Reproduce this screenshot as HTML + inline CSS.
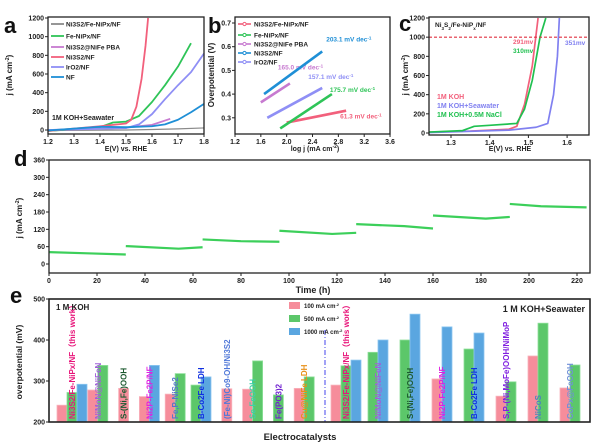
<!DOCTYPE html>
<html><head><meta charset="utf-8">
<style>
html,body{margin:0;padding:0;background:#fff;}
svg{display:block;font-family:"Liberation Sans",Arial,sans-serif;font-weight:bold;}
</style></head>
<body>
<svg id="fig" width="600" height="447" viewBox="0 0 600 447" xmlns="http://www.w3.org/2000/svg">
<g id="root"></g>
</svg>
<script>
// ---------- Panel a data ----------
const aNames = ["Ni3S2/Fe-NiPx/NF","Fe-NiPx/NF","Ni3S2@NiFe PBA","Ni3S2/NF","IrO2/NF","NF"];
const aColors = ["#8a8a8a","#2fc458","#c77ad0","#f2607c","#8f8ff5","#1f8fd6"];
const aX0 = [1.2,1.4,1.5,1.6,1.7,1.8];
const aY0 = [-5,-2,0,5,12,22];
const aX1 = [1.2,1.3,1.4,1.45,1.5,1.55,1.6,1.65,1.7,1.75];
const aY1 = [-10,10,30,80,90,150,300,480,680,930];
const aX2 = [1.2,1.4,1.5,1.6,1.67];
const aY2 = [0,15,25,55,120];
const aX3 = [1.2,1.4,1.5,1.52,1.54,1.56,1.575,1.585];
const aY3 = [-10,40,70,110,250,550,900,1200];
const aX4 = [1.2,1.5,1.55,1.6,1.65,1.7,1.75,1.8];
const aY4 = [0,20,60,170,330,480,620,820];
const aX5 = [1.2,1.4,1.5,1.6,1.65,1.7,1.75,1.8];
const aY5 = [-5,35,30,40,60,110,190,280];
const aXTicks = [1.2,1.3,1.4,1.5,1.6,1.7,1.8];
const aYTicks = [0,200,400,600,800,1000,1200];
// ---------- Panel b data ----------
const bNames = ["Ni3S2/Fe-NiPx/NF","Fe-NiPx/NF","Ni3S2@NiFe PBA","Ni3S2/NF","IrO2/NF"];
const bColors = ["#f2607c","#2fc458","#c77ad0","#1f8fd6","#8f8ff5"];
const bStartX = [2.0,1.9,1.6,1.65,1.7];
const bStartY = [0.28,0.255,0.365,0.40,0.30];
const bEndX = [2.92,2.70,2.05,2.55,2.55];
const bEndY = [0.33,0.40,0.445,0.58,0.426];
const bSlopes = ["61.3 mV dec","175.7 mV dec","165.0 mV dec","203.1 mV dec","157.1 mV dec"];
const bXTicks = [1.2,1.6,2.0,2.4,2.8,3.2,3.6];
const bYTicks = [0.3,0.4,0.5,0.6,0.7];
// ---------- Panel c data ----------
const cNames = ["1M KOH","1M KOH+Seawater","1M KOH+0.5M NaCl"];
const cColors = ["#f2607c","#8080f0","#20c050"];
const cX0 = [1.243,1.35,1.45,1.47,1.49,1.51,1.525];
const cY0 = [10,20,40,70,300,700,1200];
const cX1 = [1.243,1.45,1.52,1.55,1.565,1.575,1.58];
const cY1 = [5,30,60,100,400,800,1200];
const cX2 = [1.243,1.33,1.36,1.4,1.47,1.49,1.51,1.53,1.545];
const cY2 = [10,25,70,80,100,250,550,1000,1200];
const cXTicks = [1.3,1.4,1.5,1.6];
const cYTicks = [0,200,400,600,800,1000,1200];
// ---------- Panel d data ----------
const dSegT = [[0,16,32],[32,54,64],[64,80,96],[96,118,128],[128,148,160],[160,182,192],[192,205,224]];
const dSegJ = [[41,37,33],[62,53,58],[85,79,77],[115,104,108],[138,131,123],[168,157,163],[208,200,196]];
const dXTicks = [0,20,40,60,80,100,120,140,160,180,200,220];
const dYTicks = [0,60,120,180,240,300,360];
// ---------- Panel e data ----------
const eLabels = ["Ni3S2/Fe-NiPx/NF（this work）","NiMoN@NiFeN","S-(Ni,Fe)OOH","Ni2P-Fe2P/NF","Fe,P-NiSe2","B-Co2Fe LDH","(Fe-Ni)Co9-OH/Ni3S2","Se-FeOOH","Fe(PO3)2","Cu@NiFe LDH",
 "Ni3S2/Fe-NiPx/NF（this work）","NiMoN@NiFeN","S-(Ni,Fe)OOH","Ni2P-Fe2P/NF","B-Co2Fe LDH","S,P-(Ni,MoFe)OOH/NiMoP","NiCoS","CoPx@FeOOH"];
const eLabelColors = ["#e8157a","#a060d8","#1d5a30","#e020e0","#5577c8","#1030e0","#5078d8","#40d0a8","#7020d0","#e89018",
 "#e8157a","#a060d8","#1d5a30","#e020e0","#1030e0","#8020e0","#4a86b8","#7090d8"];
const e100 = [241,278,282,262,268,null,281,280,null,282, 290,null,null,305,null,263,361,283];
const e500 = [272,338,null,null,318,290,null,349,266,310, 337,370,400,null,378,298,441,339];
const e1000 = [292,null,null,338,null,310,null,null,null,null, 351,400,463,432,417,null,null,null];
const eYTicks = [200,300,400,500];
const eSeriesNames = ["100 mA cm","500 mA cm","1000 mA cm"];
const eColors = ["#f68d9b","#5cc76a","#5aa6e0"];
const eStroke = ["#f8b3bc","#8ee09a","#8cc6f0"];

const NS="http://www.w3.org/2000/svg";
const root=document.getElementById('root');
function mk(tag,attrs,parent){const e=document.createElementNS(NS,tag);for(const k in attrs)e.setAttribute(k,attrs[k]);(parent||root).appendChild(e);return e;}
function txt(s,x,y,size,color,anchor,parent){const t=mk('text',{x:x,y:y,'font-size':size,fill:color||'#222','text-anchor':anchor||'start'},parent);t.textContent=s;return t;}

const xA=v=>48+(v-1.2)/0.6*156, yA=v=>130-v/1200*112;
const xB=v=>235+(v-1.2)*64.6, yB=v=>23+(0.7-v)*237;
const xC=v=>451+(v-1.3)*387, yC=v=>133-v/1200*115;
const xD=v=>49+v*2.4, yD=v=>264-v*104/360;
const yE=v=>422-(v-200)*123/300;

function frame(x0,y0,x1,y1,name,sw){const r=mk('rect',{x:x0,y:y0,width:x1-x0,height:y1-y0,fill:'none',stroke:'#222','stroke-width':sw||1.3});

return r;}
function xticks(vals,fx,ybot,fmt,name){const g=mk('g',{});


vals.forEach(v=>{mk('line',{x1:fx(v),x2:fx(v),y1:ybot,y2:ybot+3,stroke:'#222','stroke-width':1},g);txt(fmt(v),fx(v),ybot+10,7,'#222','middle',g);});}
function yticks(vals,fy,xl,fmt,name){const g=mk('g',{});


vals.forEach(v=>{mk('line',{x1:xl-3,x2:xl,y1:fy(v),y2:fy(v),stroke:'#222','stroke-width':1},g);txt(fmt(v),xl-4,fy(v)+2.5,7,'#222','end',g);});}
function poly(xs,ys,fx,fy,color,w,name){const p=mk('polyline',{points:xs.map((x,i)=>fx(x)+','+fy(ys[i])).join(' '),fill:'none',stroke:color,'stroke-width':w||1.6,'stroke-linejoin':'round'});

return p;}
function panelLetter(s,x,y){const t=txt(s,x,y,22,'#111');

}
function ylabel(s,x,y,size){const t=mk('text',{x:0,y:0,'font-size':size||8,fill:'#222','text-anchor':'middle',transform:`translate(${x},${y}) rotate(-90)`});t.innerHTML=s;

return t;}
function xlabel(s,x,y,size){const t=mk('text',{x:x,y:y,'font-size':size||7,fill:'#222','text-anchor':'middle'});t.innerHTML=s;

return t;}
const fmt1=v=>v.toFixed(1), fmt0=v=>String(v);

// ---------- Panel a ----------
panelLetter('a',4,33);
const aXs=[aX0,aX1,aX2,aX3,aX4,aX5], aYs=[aY0,aY1,aY2,aY3,aY4,aY5];
aXs.forEach((xs,i)=>poly(xs,aYs[i],xA,yA,aColors[i],i==0?1.2:1.8,'a-curve-'+i));
frame(48,17,204,134,'panel-a-plot-frame');
xticks(aXTicks,xA,134,fmt1,'a-x-ticks'); yticks(aYTicks,yA,48,fmt0,'a-y-ticks');
xlabel('E(V) vs. RHE',126,151);
ylabel('j (mA cm<tspan baseline-shift="super" font-size="5">-2</tspan>)',12,75);
const aLegY=[24,36,47,57,67,77];
aNames.forEach((n,i)=>{const g=mk('g',{});


mk('line',{x1:51,x2:64,y1:aLegY[i],y2:aLegY[i],stroke:aColors[i],'stroke-width':1.8},g);txt(n,66,aLegY[i]+2.5,6.5,'#222','start',g);});
const aNote=txt('1M KOH+Seawater',52,120,7,'#222');



// ---------- Panel b ----------
panelLetter('b',208,33);
const bLabelOff=[[-6,8],[-2,-2],[-12,-14],[4,-10],[-14,-9]];
bNames.forEach((n,i)=>{poly([bStartX[i],bEndX[i]],[bStartY[i],bEndY[i]],xB,yB,bColors[i],2.6,'b-tafel-line-'+i);
const s=txt(bSlopes[i],xB(bEndX[i])+bLabelOff[i][0],yB(bEndY[i])+bLabelOff[i][1],6.5,bColors[i]);


mk('tspan',{'baseline-shift':'super','font-size':4.5},s).textContent='-1';});
frame(235,17,390,134,'panel-b-plot-frame');
xticks(bXTicks,xB,134,fmt1,'b-x-ticks'); yticks(bYTicks,yB,235,fmt1,'b-y-ticks');
xlabel('log j (mA cm<tspan baseline-shift="super" font-size="5">-2</tspan>)',315,151);
ylabel('Overpotential (V)',214,75);
const bLegY=[24,35,44,53,62];
bNames.forEach((n,i)=>{const g=mk('g',{});


mk('line',{x1:238,x2:251,y1:bLegY[i],y2:bLegY[i],stroke:bColors[i],'stroke-width':1.6},g);mk('circle',{cx:244.5,cy:bLegY[i],r:1.6,fill:'#fff',stroke:bColors[i]},g);txt(n,254,bLegY[i]+2.5,6.5,'#222','start',g);});

// ---------- Panel c ----------
panelLetter('c',399,31);
const cXs=[cX0,cX1,cX2], cYs=[cY0,cY1,cY2];
cXs.forEach((xs,i)=>poly(xs,cYs[i],xC,yC,cColors[i],1.7,'c-curve-'+i));
const dl=mk('line',{x1:429,x2:589,y1:yC(1000),y2:yC(1000),stroke:'#e03040','stroke-width':1.2,'stroke-dasharray':'3,2'});


frame(429,17,589,135,'panel-c-plot-frame');
xticks(cXTicks,xC,135,fmt1,'c-x-ticks'); yticks(cYTicks,yC,429,fmt0,'c-y-ticks');
xlabel('E(V) vs. RHE',510,151);
ylabel('j (mA cm<tspan baseline-shift="super" font-size="5">-2</tspan>)',408,75);
const cTitle=txt('',435,27,6.5,'#222');cTitle.innerHTML='Ni<tspan baseline-shift="sub" font-size="4.5">3</tspan>S<tspan baseline-shift="sub" font-size="4.5">2</tspan>/Fe-NiP<tspan baseline-shift="sub" font-size="4.5">x</tspan>/NF';


[['291mv',513,44,cColors[0]],['310mv',513,53,cColors[2]],['351mv',565,45,cColors[1]]].forEach(a=>{const t=txt(a[0],a[1],a[2],6.5,a[3]);

});
const cLegY=[99,108,117];
cNames.forEach((n,i)=>{const t=txt(n,437,cLegY[i],7,cColors[i]);

});

// ---------- Panel d ----------
panelLetter('d',14,166);
dSegT.forEach((ts,i)=>poly(ts,dSegJ[i],xD,yD,'#3ccf5a',2.2,'d-segment-'+i));
frame(49,160,590,273,'panel-d-plot-frame');
xticks(dXTicks,xD,273,fmt0,'d-x-ticks'); yticks(dYTicks,yD,49,fmt0,'d-y-ticks');
xlabel('Time (h)',313,293,9);
ylabel('j (mA cm<tspan baseline-shift="super" font-size="5">-2</tspan>)',22,218);

// ---------- Panel e ----------
panelLetter('e',10,303);
const ser=[e100,e500,e1000];
const gCenter=i=>i<10?72+i*25.8:346+(i-10)*32;
eLabels.forEach((lab,i)=>{
  const present=[0,1,2].filter(s=>ser[s][i]!==null);
  const w=10, start=gCenter(i)-present.length*w/2;
  present.forEach((s,k)=>{const v=ser[s][i];const r=mk('rect',{x:start+k*w,y:yE(v),width:w,height:422-yE(v),fill:eColors[s],stroke:eStroke[s],'stroke-width':0.8});
  
  });
  const t=mk('text',{x:0,y:0,'font-size':8,fill:eLabelColors[i],transform:`translate(${gCenter(i)+3},419) rotate(-90)`});
  t.textContent=lab;
  
  
});
const sep=mk('line',{x1:325,x2:325,y1:330,y2:422,stroke:'#7070f0','stroke-width':1.3,'stroke-dasharray':'5,2,1,2'});


frame(49,299,590,422,'panel-e-plot-frame',1.6);
yticks(eYTicks,yE,49,fmt0,'e-y-ticks');
ylabel('overpotential (mV)',22,362,8.5);
xlabel('Electrocatalysts',300,440,9.5);
const k1=txt('1 M KOH',56,310,8,'#222');


const k2=txt('1 M KOH+Seawater',585,312,9,'#222','end');


const eLegY=[306,319,332];
eSeriesNames.forEach((n,i)=>{const g=mk('g',{});


mk('rect',{x:289,y:eLegY[i]-4,width:11,height:7,fill:eColors[i]},g);const t=txt(n,304,eLegY[i]+2,6,'#222','start',g);mk('tspan',{'baseline-shift':'super','font-size':4},t).textContent='-2';});
</script>
</body></html>
